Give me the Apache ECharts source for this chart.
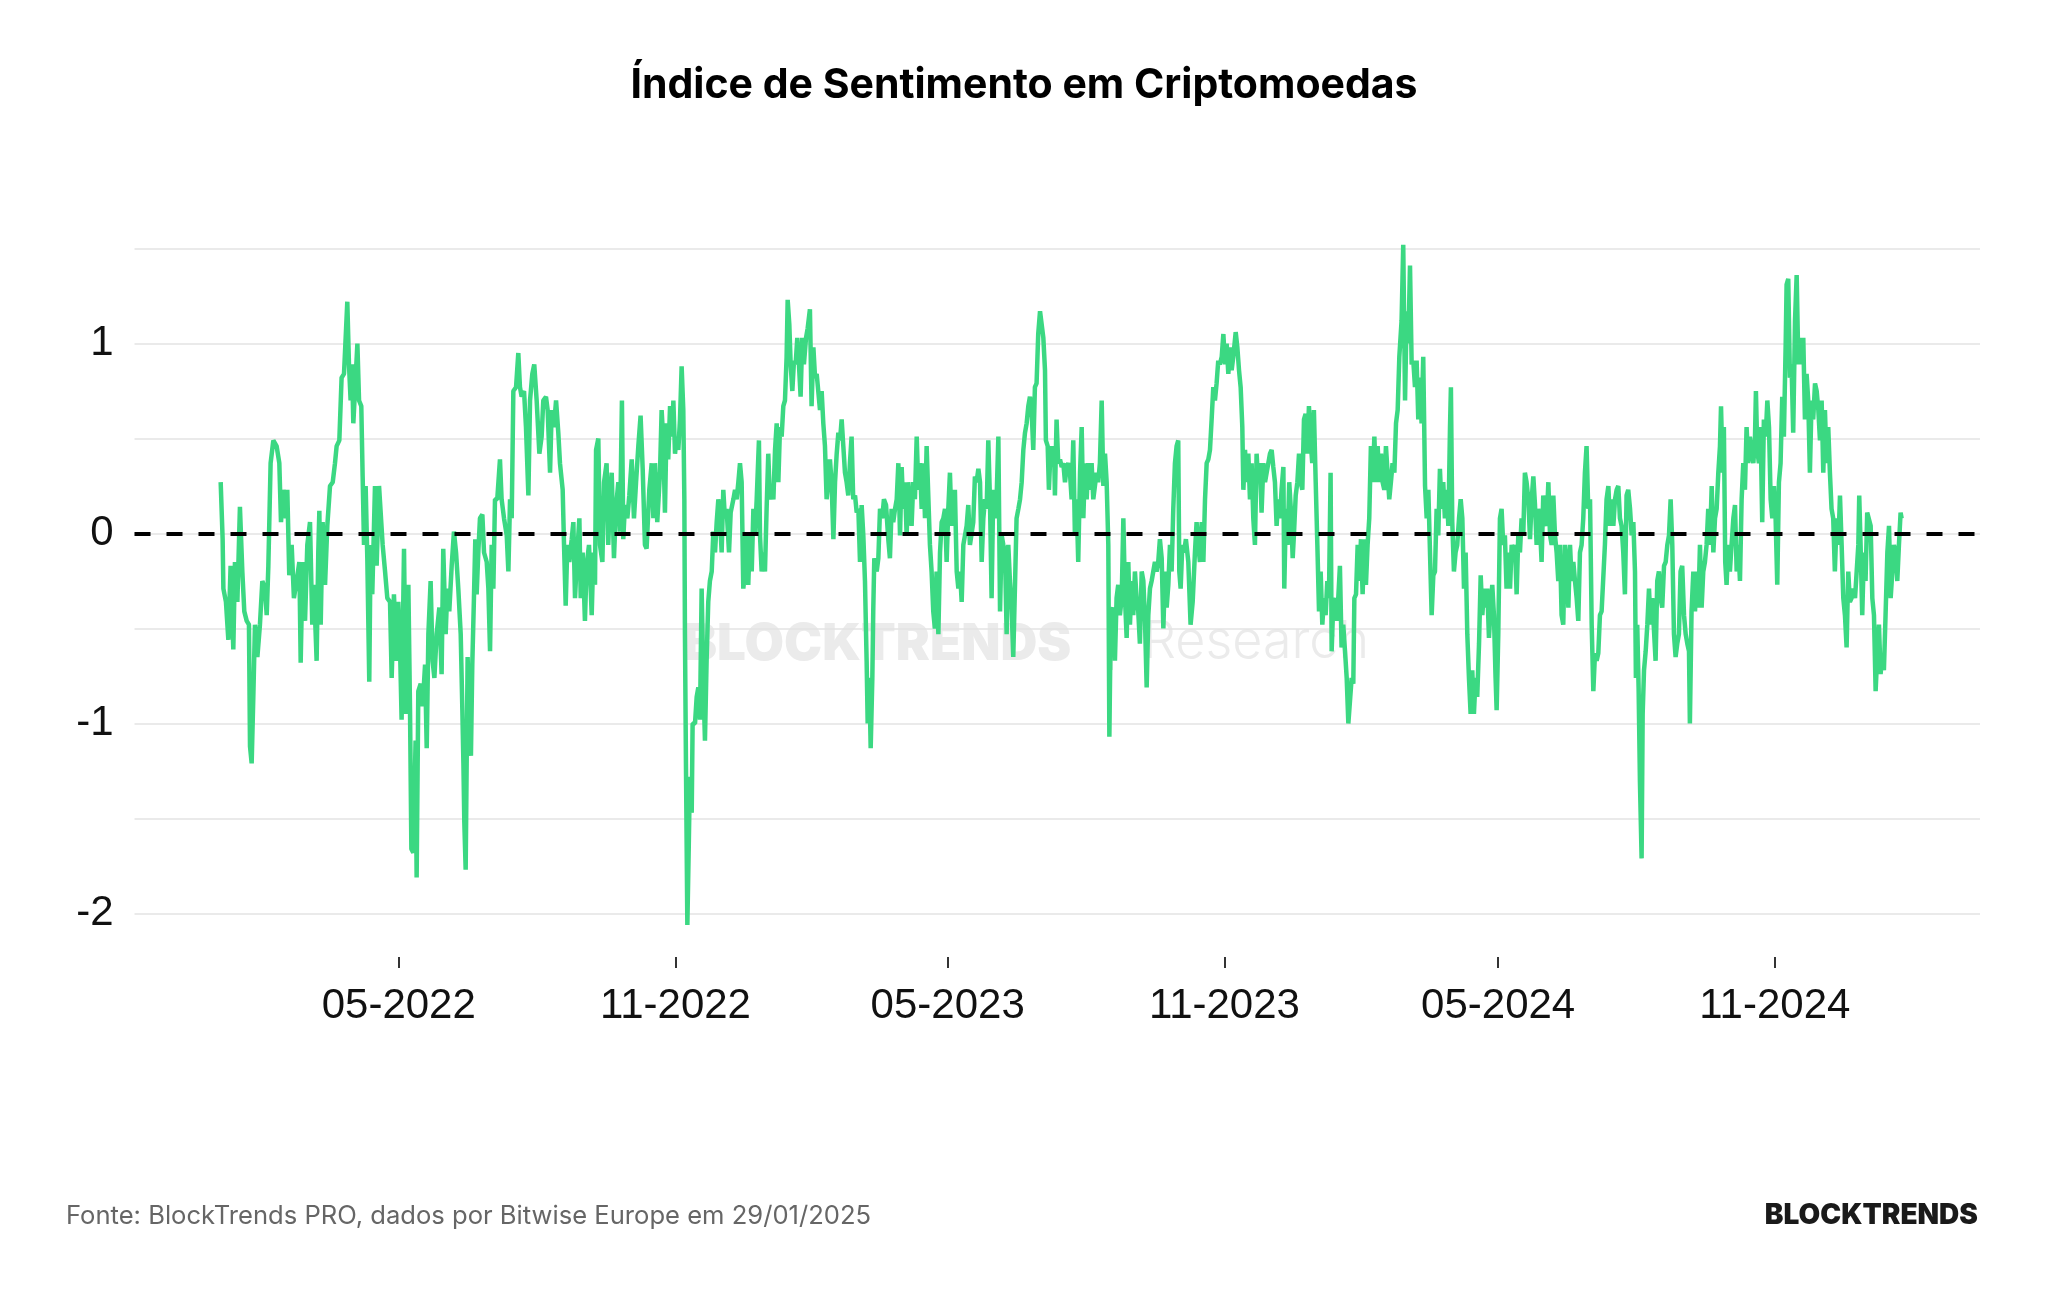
<!DOCTYPE html>
<html>
<head>
<meta charset="utf-8">
<script src="https://cdn.jsdelivr.net/npm/echarts@6/dist/echarts.min.js"></script>
<style>
  html, body { margin: 0; padding: 0; background: #fff; }
  #chart { width: 2048px; height: 1290px; }
</style>
</head>
<body>
<div id="chart"></div>
<script>
// dias desde 2022-01-01
var dayOffsets = [
  // jan-mai 2022
  1.6, 2.9, 3.4, 5.1, 6.7, 8.2, 10.0, 11.1, 12.7, 14.4,
  16.0, 17.3, 18.9, 20.4, 21.1, 22.2, 23.3, 24.4, 26.0, 27.7,
  29.3, 31.1, 32.2, 33.3, 34.8, 36.6, 38.8, 40.6, 41.7, 43.3,
  45.0, 45.9, 47.2, 48.8, 50.3, 52.1, 53.9, 54.8, 56.1, 57.7,
  59.2, 61.0, 62.5, 63.6, 65.4, 66.5, 67.2, 68.1, 69.4, 71.0,
  72.5, 74.3, 76.1, 77.6, 78.7, 80.5, 82.0, 83.6, 84.7, 85.8,
  86.9, 88.0, 88.9, 89.8, 90.9, 92.5, 93.6, 95.1, 96.0, 96.9,
  98.0, 99.1, 100.4, 101.3, 102.4, 104.2, 105.3, 106.9, 108.2, 109.3,
  110.9, 112.4, 114.2, 115.3, 116.8, 118.6, 119.7, 120.8, 121.9, 123.5,
  124.8, 126.4, 127.5, 128.4, 129.7, 131.2, 131.9, 133.0, 134.6, 135.9,
  137.5, 138.6, 139.7, 141.2, 142.5, 143.7, 145.2, 147.0,
  // jun-nov 2022
  148.5, 149.6, 151.2, 152.3, 153.6, 155.2, 156.7, 158.1, 159.6, 161.2,
  162.3, 163.0, 163.6, 164.5, 165.2, 165.8, 166.9, 168.0, 168.9, 170.0,
  170.9, 171.8, 172.9, 174.0, 175.6, 176.7, 178.5, 179.6, 180.7, 181.8,
  182.9, 184.0, 185.5, 187.3, 188.4, 190.0, 191.8, 192.9, 194.0, 195.1,
  196.2, 198.0, 199.5, 200.6, 201.7, 203.3, 204.6, 206.2, 207.3, 208.8,
  210.1, 211.7, 213.5, 215.0, 216.1, 217.9, 219.0, 220.6, 221.7, 223.2,
  224.6, 226.1, 227.2, 229.0, 229.9, 231.0, 232.1, 233.4, 235.0, 236.1,
  237.2, 238.7, 240.1, 241.0, 242.3, 243.8, 244.9, 246.5, 248.3, 249.4,
  250.5, 251.2, 252.7, 253.8, 255.4, 256.5, 258.2, 259.3, 260.5, 261.6,
  263.1, 264.4, 266.0, 267.1, 268.4, 269.3, 270.4, 272.0, 273.3, 274.9,
  276.4, 277.8, 279.3, 280.8, 282.2, 283.7, 284.8, 286.6, 288.2, 289.3,
  290.4, 291.9, 293.7, 294.8, 295.9, 297.0, 298.1, 299.2, 300.4, 301.7,
  302.6, 303.7, 304.8, 305.9, 307.0,
  // nov 2022 - abr 2023
  308.1, 309.2, 309.9, 310.3, 311.0, 311.9, 312.8, 313.6, 314.8, 315.4,
  317.0, 318.1, 319.2, 320.3, 321.4, 322.5, 323.6, 324.7, 325.8, 326.9,
  328.1, 329.2, 330.3, 331.4, 332.5, 333.6, 334.7, 335.8, 336.9, 338.0,
  339.6, 340.7, 342.5, 343.6, 344.7, 345.8, 346.9, 348.0, 349.1, 350.2,
  351.3, 352.4, 353.5, 354.7, 355.8, 356.9, 358.0, 359.5, 360.2, 361.3,
  362.4, 363.5, 364.6, 365.7, 366.8, 367.9, 369.1, 370.2, 371.3, 372.4,
  373.5, 374.6, 375.7, 376.8, 377.9, 378.6, 379.7, 380.6, 381.7, 382.8,
  383.9, 385.0, 386.1, 387.2, 388.3, 389.4, 390.8, 391.9, 393.4, 394.5,
  395.7, 396.8, 397.9, 399.0, 400.1, 401.2, 402.3, 403.4, 404.5, 405.6,
  406.7, 407.8, 409.0, 410.1, 411.2, 412.3, 413.4, 414.5, 415.6, 416.7,
  417.8, 418.9, 420.0, 421.1, 422.2, 423.4, 424.5, 425.6, 426.7, 427.8,
  428.9, 430.0, 431.1, 431.8, 432.9, 433.8, 434.9, 435.5, 436.2, 437.8,
  438.9, 440.0, 441.5, 442.6, 444.0, 445.5, 446.6, 447.7, 448.8, 450.0,
  451.1, 452.2, 453.3, 454.4, 455.5, 456.6, 457.7, 458.8, 459.9, 461.0,
  462.1, 463.2, 464.4, 465.5, 466.6,
  // abr-set 2023
  467.7, 468.8, 469.9, 471.0, 472.1, 473.2, 474.3, 475.4, 476.5, 477.6,
  478.8, 479.9, 481.0, 482.1, 483.2, 484.3, 485.4, 486.5, 487.6, 488.7,
  489.8, 491.0, 492.1, 493.2, 494.3, 495.4, 496.5, 497.6, 498.7, 499.8,
  500.9, 502.0, 503.1, 504.2, 505.4, 506.5, 507.6, 508.7, 509.8, 510.9,
  512.0, 513.1, 514.2, 515.3, 516.4, 517.5, 518.7, 519.8, 520.9, 522.0,
  523.1, 524.2, 525.3, 526.4, 527.5, 528.6, 529.7, 530.8, 532.0, 533.1,
  534.2, 535.3, 536.4, 537.5, 538.6, 539.7, 540.8, 541.9, 543.0, 544.1,
  545.2, 546.4, 547.5, 548.6, 549.7, 550.3, 551.5, 552.3, 553.5, 554.6,
  555.7, 556.3, 557.4, 558.5, 559.7, 560.8, 561.9, 563.0, 564.1, 565.2,
  566.3, 567.4, 568.5, 569.6, 570.7, 571.8, 573.0, 574.1, 575.2, 576.3,
  577.4, 578.5, 579.6, 580.7, 581.8, 582.9, 584.0, 585.1, 586.2, 587.4,
  588.5, 589.6, 590.7, 591.8, 592.5, 593.3, 594.0, 595.1, 596.2, 597.3,
  598.4, 599.5, 600.7, 601.8, 602.9, 604.0, 605.1, 606.2, 607.3, 608.4,
  609.5, 610.6, 611.7, 612.8, 614.0, 615.1, 616.2, 617.3, 618.4, 619.5,
  620.6, 621.7, 622.8, 623.9, 625.0, 626.1,
  // set 2023 - fev 2024
  627.3, 628.4, 629.5, 630.6, 631.7, 632.8, 633.9, 635.0, 636.1, 637.2,
  638.3, 639.0, 639.9, 641.0, 642.1, 643.4, 645.0, 646.5, 647.9, 649.4,
  650.5, 651.6, 652.7, 653.9, 655.0, 656.1, 657.2, 658.3, 659.4, 660.5,
  661.6, 662.7, 663.8, 664.9, 666.0, 667.2, 668.3, 669.4, 670.5, 671.6,
  672.7, 673.8, 674.9, 676.5, 677.6, 678.7, 679.8, 680.9, 681.6, 682.7,
  683.8, 684.9, 686.0, 687.1, 688.2, 689.3, 690.4, 691.5, 692.6, 693.7,
  694.9, 696.0, 697.1, 698.2, 699.3, 700.4, 701.5, 702.6, 703.7, 704.8,
  705.9, 707.0, 708.2, 708.8, 709.9, 711.0, 712.1, 713.3, 714.4, 715.2,
  716.4, 717.5, 718.6, 719.7, 720.8, 721.9, 723.0, 724.1, 725.2, 726.3,
  727.4, 728.5, 729.7, 730.8, 731.9, 733.0, 734.1, 735.2, 736.3, 737.4,
  738.5, 739.6, 740.3, 741.4, 742.5, 743.6, 744.7, 745.8, 746.9, 748.0,
  749.2, 750.3, 751.4, 752.5, 753.6, 754.7, 755.4, 756.5, 757.6, 758.7,
  759.8, 760.9, 762.0, 763.1, 764.2, 765.3, 766.4, 767.6, 768.7, 769.8,
  770.9, 772.0, 773.1, 774.2, 775.3, 776.4, 777.5, 778.6, 779.7, 780.8,
  782.0, 783.1, 784.2, 785.3,
  // fev-ago 2024
  786.8, 787.9, 789.1, 790.2, 791.3, 792.4, 793.5, 794.6, 795.7, 796.8,
  797.9, 799.0, 800.1, 801.2, 802.4, 803.5, 804.6, 805.7, 806.8, 807.9,
  809.0, 810.1, 811.2, 812.3, 813.4, 814.5, 815.6, 816.8, 817.9, 819.0,
  819.6, 820.5, 821.6, 822.7, 823.8, 825.0, 826.1, 827.2, 828.3, 829.4,
  830.5, 831.6, 832.7, 833.8, 834.9, 836.0, 837.1, 838.3, 839.4, 840.5,
  841.6, 842.7, 843.8, 844.9, 846.0, 847.1, 848.2, 849.3, 850.0, 851.1,
  852.2, 853.3, 854.4, 855.5, 856.6, 857.8, 858.9, 860.0, 861.1, 862.2,
  863.3, 864.4, 865.5, 866.6, 867.7, 868.8, 869.9, 871.1, 872.2, 873.3,
  874.4, 875.5, 876.6, 877.7, 878.8, 879.9, 881.0, 882.1, 883.2, 884.4,
  885.5, 886.6, 887.7, 888.8, 889.9, 891.0, 892.1, 893.2, 894.3, 895.4,
  896.5, 897.7, 898.8, 899.9, 901.0, 902.1, 903.2, 904.3, 905.4, 906.5,
  907.6, 908.7, 909.8, 910.9, 912.1, 913.2, 914.3, 915.4, 916.5, 917.6,
  918.7, 919.8, 920.9, 922.0, 923.1, 924.3, 925.4, 926.5, 927.6, 928.7,
  929.8, 930.9, 932.0, 933.1, 934.2, 935.3, 936.4, 937.5, 938.7, 939.8,
  940.9, 942.0, 942.6, 943.5, 944.4, 945.3,
  // ago 2024 - jan 2025
  946.4, 947.1, 948.0, 949.1, 950.2, 951.3, 952.4, 953.5, 954.6, 955.7,
  956.8, 957.9, 959.0, 960.1, 961.3, 962.4, 963.5, 964.6, 965.7, 966.8,
  967.9, 969.0, 970.1, 971.2, 972.3, 973.4, 974.6, 975.7, 976.8, 977.9,
  978.5, 979.6, 980.8, 981.9, 983.0, 984.1, 985.2, 986.3, 987.4, 988.5,
  989.6, 990.7, 991.8, 993.0, 994.1, 995.2, 996.3, 997.4, 998.5, 999.2,
  1000.3, 1001.1, 1002.0, 1002.9, 1004.0, 1005.1, 1006.2, 1007.4, 1008.5, 1009.6,
  1010.7, 1011.8, 1012.9, 1014.0, 1015.1, 1016.2, 1017.3, 1018.4, 1019.5, 1020.7,
  1021.8, 1022.4, 1023.3, 1024.4, 1025.5, 1026.6, 1027.7, 1028.9, 1030.0, 1031.1,
  1032.2, 1033.3, 1034.4, 1035.5, 1036.6, 1037.7, 1038.8, 1039.9, 1041.0, 1042.2,
  1042.8, 1043.9, 1045.0, 1046.1, 1047.2, 1048.4, 1049.5, 1050.6, 1051.7, 1052.8,
  1053.9, 1055.0, 1056.1, 1057.2, 1058.3, 1059.4, 1060.5, 1061.7, 1062.8, 1063.9,
  1065.0, 1066.1, 1067.2, 1068.3, 1069.4, 1070.5, 1071.6, 1072.7, 1073.8, 1074.9,
  1076.1, 1077.2, 1078.3, 1079.4, 1080.5, 1081.6, 1082.7, 1083.8, 1084.9, 1086.0,
  1087.1, 1088.3, 1089.4, 1090.5, 1091.1, 1092.0, 1093.1, 1094.2, 1095.3, 1096.4,
  1097.6, 1098.7, 1099.8, 1100.9, 1102.0, 1103.1, 1104.2, 1105.3, 1106.4, 1107.5,
  1108.6, 1109.8, 1110.9, 1112.0, 1113.1, 1114.2, 1115.3, 1116.4, 1117.5, 1118.6,
  1119.3
];

var sentiment = [
  // jan-mai 2022
  0.27, -0.03, -0.29, -0.36, -0.56, -0.17, -0.61, -0.15, -0.36, 0.14,
  -0.2, -0.41, -0.46, -0.48, -1.12, -1.21, -0.86, -0.48, -0.65, -0.48,
  -0.25, -0.29, -0.43, -0.17, 0.37, 0.49, 0.46, 0.37, 0.06, 0.23,
  0.08, 0.23, -0.22, -0.06, -0.34, -0.25, -0.15, -0.68, -0.15, -0.46,
  -0.06, 0.06, -0.48, -0.27, -0.67, -0.1, 0.12, -0.48, 0.06, -0.27,
  0.04, 0.25, 0.27, 0.37, 0.46, 0.49, 0.82, 0.84, 1.03, 1.22,
  0.89, 0.7, 0.89, 0.58, 0.75, 1.0, 0.7, 0.67, 0.3, -0.06,
  0.25, -0.13, -0.78, -0.06, -0.32, 0.25, -0.17, 0.25, 0.25, -0.06,
  -0.2, -0.34, -0.36, -0.76, -0.32, -0.67, -0.36, -0.58, -0.98, -0.08,
  -0.95, -0.27, -0.93, -1.66, -1.68, -1.09, -1.81, -0.83, -0.79, -0.91,
  -0.69, -1.13, -0.53, -0.25, -0.67, -0.76, -0.53, -0.39,
  // jun-nov 2022
  -0.74, -0.08, -0.53, -0.29, -0.41, -0.17, 0.01, -0.1, -0.29, -0.53,
  -0.93, -1.21, -1.52, -1.77, -1.17, -0.65, -1.0, -1.17, -0.69, -0.34,
  -0.03, -0.32, -0.1, 0.08, 0.1, -0.1, -0.15, -0.29, -0.62, -0.06,
  -0.29, 0.18, 0.18, 0.39, 0.18, 0.08, -0.01, -0.2, 0.18, 0.08,
  0.75, 0.77, 0.95, 0.77, 0.72, 0.75, 0.56, 0.2, 0.7, 0.84,
  0.89, 0.7, 0.42, 0.51, 0.7, 0.72, 0.65, 0.32, 0.65, 0.56,
  0.7, 0.53, 0.37, 0.23, -0.06, -0.38, -0.06, -0.15, -0.03, 0.06,
  -0.34, -0.1, 0.08, -0.34, -0.1, -0.46, -0.17, -0.06, -0.43, -0.1,
  -0.27, 0.44, 0.5, -0.06, -0.15, 0.27, 0.37, -0.06, 0.2, 0.32,
  -0.13, 0.13, 0.27, 0.01, 0.7, -0.03, 0.15, 0.08, 0.2, 0.39,
  0.08, 0.27, 0.46, 0.62, 0.34, -0.06, -0.08, 0.23, 0.37, 0.08,
  0.37, 0.06, 0.32, 0.65, 0.49, 0.11, 0.58, 0.39, 0.67, 0.51,
  0.7, 0.42, 0.51, 0.44, 0.6,
  // nov 2022 - abr 2023
  0.88, 0.65, 0.18, -0.53, -1.24, -2.06, -1.66, -1.28, -1.47, -1.0,
  -1.0, -0.86, -0.81, -0.98, -0.29, -0.76, -1.09, -0.67, -0.36, -0.25,
  -0.2, 0.01, -0.1, 0.06, 0.18, 0.08, -0.1, 0.23, 0.08, 0.13,
  -0.1, 0.11, 0.18, 0.23, 0.18, 0.27, 0.37, 0.27, -0.29, -0.2,
  -0.01, -0.27, -0.01, -0.2, 0.13, -0.01, 0.18, 0.49, -0.01, -0.2,
  -0.1, -0.2, 0.13, 0.42, 0.18, 0.23, 0.18, 0.44, 0.58, 0.27,
  0.56, 0.51, 0.67, 0.7, 0.93, 1.23, 1.1, 0.89, 0.75, 0.91,
  0.89, 1.03, 0.89, 0.72, 1.03, 0.89, 1.03, 1.08, 1.18, 0.67,
  0.98, 0.82, 0.84, 0.84, 0.65, 0.75, 0.58, 0.46, 0.18, 0.27,
  0.39, 0.27, -0.03, 0.27, 0.42, 0.53, 0.49, 0.6, 0.46, 0.32,
  0.27, 0.2, 0.37, 0.51, 0.18, 0.2, 0.11, 0.13, -0.15, 0.15,
  -0.01, -0.25, -0.67, -1.0, -0.76, -1.13, -0.76, -0.41, -0.13, -0.2,
  -0.13, 0.13, 0.08, 0.18, 0.15, -0.03, -0.13, 0.13, 0.06, 0.13,
  0.18, 0.37, -0.01, 0.35, 0.13, 0.27, -0.01, 0.27, 0.13, 0.04,
  0.27, 0.18, 0.51, 0.23, 0.37,
  // abr-set 2023
  0.13, 0.37, 0.08, 0.46, 0.46, -0.06, -0.2, -0.41, -0.5, -0.2,
  -0.53, -0.1, 0.06, 0.08, 0.13, -0.15, 0.13, 0.32, 0.04, 0.13,
  0.23, -0.2, -0.29, -0.2, -0.36, -0.06, -0.06, 0.04, 0.15, -0.06,
  -0.06, 0.06, 0.3, 0.27, 0.34, 0.27, -0.15, 0.08, 0.18, 0.13,
  0.49, 0.18, -0.34, 0.23, 0.08, 0.18, 0.51, -0.41, -0.01, -0.06,
  -0.1, -0.53, -0.06, -0.25, -0.39, -0.65, -0.29, 0.08, 0.13, 0.18,
  0.27, 0.44, 0.53, 0.58, 0.67, 0.72, 0.65, 0.44, 0.77, 0.79,
  1.05, 1.17, 1.17, 1.03, 0.86, 0.49, 0.46, 0.23, 0.46, 0.37,
  0.46, 0.2, 0.6, 0.37, 0.39, 0.35, 0.37, 0.27, 0.35, 0.37,
  0.32, 0.18, 0.49, -0.01, 0.18, -0.15, 0.32, 0.56, 0.08, 0.37,
  0.18, 0.37, 0.23, 0.37, 0.18, 0.25, 0.32, 0.27, 0.37, 0.7,
  0.25, 0.42, 0.27, -0.06, -1.07, -0.53, -0.41, -0.39, -0.67, -0.34,
  -0.27, -0.43, -0.34, 0.08, -0.34, -0.55, -0.15, -0.48, -0.25, -0.43,
  -0.2, -0.34, -0.41, -0.58, -0.2, -0.25, -0.46, -0.81, -0.43, -0.29,
  -0.25, -0.2, -0.15, -0.2, -0.15, -0.03,
  // set 2023 - fev 2024
  -0.13, -0.5, -0.2, -0.39, -0.27, -0.06, -0.2, 0.13, 0.37, 0.46,
  0.49, -0.2, -0.29, -0.06, -0.1, -0.03, -0.15, -0.48, -0.36, -0.1,
  0.06, -0.06, -0.15, 0.06, -0.15, 0.18, 0.37, 0.39, 0.44, 0.6,
  0.77, 0.7, 0.79, 0.91, 0.89, 0.93, 1.05, 0.89, 1.0, 0.84,
  0.98, 0.86, 0.93, 1.06, 0.98, 0.86, 0.77, 0.56, 0.23, 0.44,
  0.27, 0.42, 0.18, 0.37, 0.08, -0.06, 0.42, 0.27, 0.37, 0.11,
  0.37, 0.27, 0.32, 0.37, 0.42, 0.44, 0.35, 0.27, 0.04, 0.18,
  0.08, 0.23, 0.35, -0.29, 0.13, -0.06, 0.27, 0.11, -0.13, -0.01,
  0.2, 0.27, 0.42, 0.27, 0.23, 0.6, 0.63, 0.42, 0.67, 0.49,
  0.37, 0.65, 0.27, -0.06, -0.41, -0.2, -0.48, -0.34, -0.43, -0.25,
  -0.34, 0.32, -0.62, -0.36, -0.34, -0.46, -0.34, -0.17, -0.6, -0.48,
  -0.62, -0.76, -1.0, -1.0, -0.76, -0.79, -0.34, -0.32, -0.06, -0.25,
  -0.03, -0.32, -0.03, -0.27, -0.06, 0.08, 0.46, 0.27, 0.51, 0.27,
  0.46, 0.27, 0.42, 0.27, 0.23, 0.46, 0.32, 0.18, 0.27, 0.37,
  0.32, 0.58, 0.65, 0.93,
  // fev-ago 2024
  1.12, 1.52, 0.7, 1.17, 1.0, 1.41, 0.89, 0.91, 0.77, 0.91,
  0.6, 0.82, 0.58, 0.93, 0.25, 0.08, 0.23, 0.23, -0.43, -0.22,
  -0.2, 0.13, -0.01, 0.34, 0.13, 0.27, 0.08, 0.23, 0.04, 0.56,
  0.77, 0.06, -0.2, -0.1, -0.06, 0.08, 0.18, 0.08, -0.29, -0.1,
  -0.53, -0.76, -0.95, -0.72, -0.95, -0.76, -0.86, -0.58, -0.22, -0.43,
  -0.29, -0.39, -0.29, -0.55, -0.39, -0.27, -0.43, -0.76, -0.93, -0.53,
  0.08, 0.13, -0.06, -0.01, -0.29, -0.1, -0.29, -0.06, -0.1, -0.06,
  -0.32, -0.01, -0.1, 0.08, -0.01, 0.32, 0.27, 0.18, -0.03, 0.18,
  0.3, 0.15, -0.06, 0.13, 0.04, -0.15, 0.2, 0.08, 0.04, 0.27,
  -0.01, -0.06, 0.2, -0.01, -0.1, -0.25, -0.06, -0.43, -0.48, -0.06,
  -0.15, -0.39, -0.06, -0.25, -0.15, -0.25, -0.34, -0.46, -0.1, -0.06,
  0.08, 0.32, 0.46, 0.13, 0.18, -0.48, -0.83, -0.63, -0.67, -0.63,
  -0.43, -0.41, -0.41, -0.06, 0.18, 0.25, 0.04, 0.18, 0.04, 0.18,
  0.23, 0.25, 0.08, 0.04, -0.1, -0.32, 0.2, 0.23, 0.13, -0.01,
  0.06, -0.2, -0.76, -0.48, -0.81, -1.31,
  // ago 2024 - jan 2025
  -1.71, -0.95, -0.72, -0.62, -0.48, -0.29, -0.48, -0.34, -0.34, -0.67,
  -0.25, -0.2, -0.34, -0.39, -0.17, -0.15, -0.06, -0.01, 0.18, -0.06,
  -0.53, -0.65, -0.58, -0.53, -0.2, -0.17, -0.43, -0.53, -0.58, -0.62,
  -1.0, -0.41, -0.2, -0.41, -0.2, -0.39, -0.06, -0.39, -0.2, -0.15,
  -0.06, 0.13, -0.06, 0.25, -0.1, 0.08, 0.13, 0.32, 0.46, 0.67,
  0.32, 0.56, -0.15, -0.27, -0.06, -0.2, -0.06, 0.08, 0.15, -0.2,
  -0.06, -0.25, 0.18, 0.37, 0.23, 0.56, 0.37, 0.51, 0.42, 0.37,
  0.51, 0.75, 0.44, 0.37, 0.56, 0.06, 0.6, 0.51, 0.7, 0.56,
  0.18, 0.08, 0.25, 0.08, -0.27, 0.27, 0.37, 0.72, 0.51, 1.0,
  1.31, 1.34, 0.82, 0.89, 0.53, 1.12, 1.36, 0.89, 1.03, 0.89,
  1.03, 0.6, 0.84, 0.7, 0.32, 0.7, 0.6, 0.79, 0.75, 0.65,
  0.49, 0.7, 0.32, 0.65, 0.37, 0.56, 0.32, 0.13, 0.08, -0.2,
  0.08, -0.06, 0.2, -0.06, -0.34, -0.43, -0.6, -0.2, -0.36, -0.34,
  -0.29, -0.34, -0.2, -0.06, 0.2, -0.06, -0.43, -0.1, -0.25, 0.11,
  0.11, 0.04, -0.34, -0.43, -0.83, -0.63, -0.48, -0.74, -0.63, -0.72,
  -0.43, -0.1, 0.04, -0.34, -0.2, -0.06, -0.1, -0.25, -0.06, 0.11,
  0.08
];

// marcas do eixo x (dias desde 2022-01-01 -> rotulo)
var tickDays = [120, 304, 485, 669, 851, 1035];
var tickLabels = ['05-2022', '11-2022', '05-2023', '11-2023', '05-2024', '11-2024'];

var chart = echarts.init(document.getElementById('chart'));

var n = Math.min(dayOffsets.length, sentiment.length);
if (dayOffsets.length !== sentiment.length) {
    console.log('tamanhos diferentes', dayOffsets.length, sentiment.length);
}
var seriesData = [];
for (var i = 0; i < n; i++) {
    seriesData.push([dayOffsets[i], sentiment[i]]);
}

var option = {
    backgroundColor: '#ffffff',
    animation: false,
    title: {
        text: 'Índice de Sentimento em Criptomoedas',
        left: 'center',
        top: 60,
        textStyle: {
            fontFamily: 'Inter',
            fontWeight: 'bold',
            fontSize: 41,
            color: '#000000'
        }
    },
    grid: {
        left: 134.5,
        width: 1845.5,
        top: 248.5,
        height: 665
    },
    xAxis: {
        type: 'value',
        min: -55.7,
        max: 1171.4,
        offset: 43.5,
        splitLine: { show: false },
        axisLine: { show: false, onZero: false },
        axisTick: {
            show: true,
            customValues: tickDays,
            length: 11,
            lineStyle: { color: '#333333', width: 2 }
        },
        axisLabel: {
            customValues: tickDays,
            margin: 28,
            fontFamily: 'Liberation Sans',
            fontSize: 42,
            color: '#111111',
            formatter: function (v) {
                var k = tickDays.indexOf(Math.round(v));
                return k >= 0 ? tickLabels[k] : '';
            }
        }
    },
    yAxis: {
        type: 'value',
        min: -2,
        max: 1.5,
        interval: 0.5,
        axisLine: { show: false },
        axisTick: { show: false },
        splitLine: { show: true, lineStyle: { color: '#e3e3e3', width: 1.5 } },
        axisLabel: {
            margin: 21,
            fontFamily: 'Liberation Sans',
            fontSize: 42,
            color: '#111111',
            formatter: function (v) {
                return Math.abs(v - Math.round(v)) < 1e-6 ? String(Math.round(v)) : '';
            }
        }
    },
    graphic: [
        {
            type: 'text', left: 683, top: 619, z: 0, silent: true,
            style: { text: 'BLOCKTRENDS', font: '900 51px Inter', fill: '#ebebeb' }
        },
        {
            type: 'rect', left: 1110, top: 618, z: 0, silent: true,
            shape: { width: 3, height: 52 }, style: { fill: '#e4e4e4' }
        },
        {
            type: 'text', left: 1143, top: 616, z: 0, silent: true,
            style: { text: 'Research', font: '300 52px Inter', fill: '#ebebeb' }
        },
        {
            type: 'text', left: 66, top: 1203, silent: true,
            style: { text: 'Fonte: BlockTrends PRO, dados por Bitwise Europe em 29/01/2025', font: '25.6px Inter', fill: '#666666' }
        },
        {
            type: 'text', right: 70, top: 1202, silent: true,
            style: { text: 'BLOCKTRENDS', font: '900 28px Inter', fill: '#1a1a1a' }
        }
    ],
    series: [{
        name: 'Sentimento',
        type: 'line',
        data: seriesData,
        showSymbol: false,
        clip: false,
        lineStyle: { color: '#3bd882', width: 4.5 },
        itemStyle: { color: '#3bd882' },
        markLine: {
            silent: true,
            symbol: 'none',
            label: { show: false },
            lineStyle: { color: '#000000', width: 4, type: [16, 16] },
            data: [{ yAxis: 0 }]
        }
    }]
};

chart.setOption(option);
</script>
</body>
</html>
